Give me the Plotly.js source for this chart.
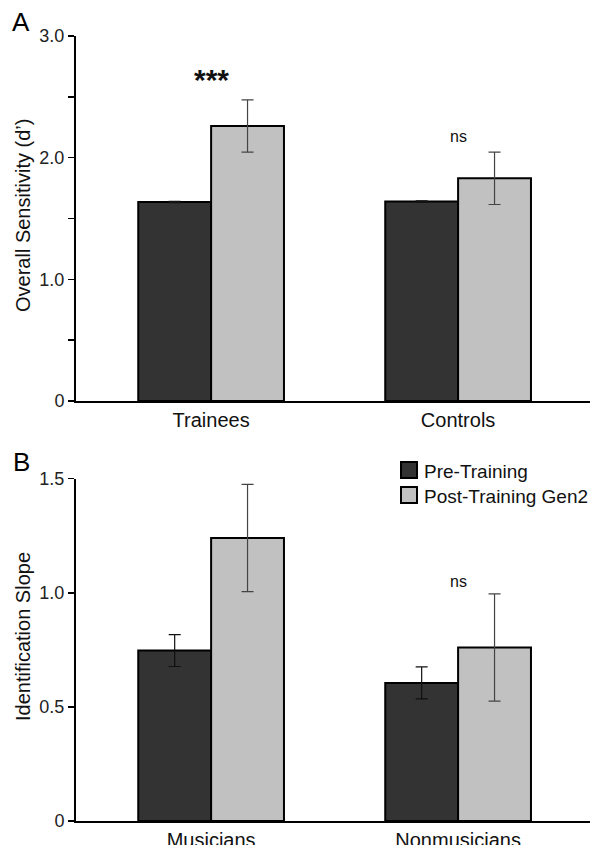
<!DOCTYPE html>
<html>
<head>
<meta charset="utf-8">
<script src="https://cdn.plot.ly/plotly-3.0.1.min.js"></script>
<style>html,body{margin:0;padding:0;background:#fff;}#chart{width:590px;height:845px;}</style>
</head>
<body>
<div id="chart"></div>
<script>
// Panel A data
const groupsA = ['Trainees', 'Controls'];
const preA = [1.635, 1.64];
const preAErr = [0.005, 0.005];
const postA = [2.26, 1.83];
const postAErr = [0.215, 0.215];
const sigA = ['***', 'ns'];
const sigAy = [2.64, 2.17];
const ticksAVals = [0, 1, 2, 3];
const ticksAText = ['0', '1.0', '2.0', '3.0'];
const titleA = 'Overall Sensitivity (d\u2019)';

// Panel B data
const groupsB = ['Musicians', 'Nonmusicians'];
const preB = [0.747, 0.605];
const preBErr = [0.07, 0.07];
const postB = [1.24, 0.76];
const postBErr = [0.235, 0.235];
const sigB = ['***', 'ns'];
const sigBy = [1.53, 1.05];
const ticksBVals = [0, 0.5, 1, 1.5];
const ticksBText = ['0', '0.5', '1.0', '1.5'];
const titleB = 'Identification Slope';

const seriesNames = ['Pre-Training', 'Post-Training Gen2'];
const panelLetters = ['A', 'B'];

const FONT = '"Liberation Sans", Arial, Helvetica, sans-serif';
const seriesFills = ['#333333', '#c1c1c1'];
const errColors = ['#111111', '#444444'];

// pixel -> paper helpers (plot area: l=76, r=0, t=0, b=0 in 590x845)
const W = 590, H = 845, ML = 76;
const px = v => (v - ML) / (W - ML);
const py = v => (H - v) / H;

function barTrace(x, y, err, k, xa, ya) {
  return {
    type: 'bar', x: x, y: y, name: seriesNames[k], xaxis: xa, yaxis: ya,
    showlegend: false,
    marker: {color: seriesFills[k], line: {color: '#000', width: 2}},
    error_y: {type: 'data', array: err, visible: true, color: errColors[k], thickness: 1.2, width: 6}
  };
}

const data = [
  barTrace(groupsA, preA, preAErr, 0, 'x', 'y'),
  barTrace(groupsA, postA, postAErr, 1, 'x', 'y'),
  barTrace(groupsB, preB, preBErr, 0, 'x2', 'y2'),
  barTrace(groupsB, postB, postBErr, 1, 'x2', 'y2')
];

function sigFont(t) {
  return t === '***'
    ? {family: '"Liberation Sans", Arial, sans-serif', size: 30, color: '#111', weight: 'bold'}
    : {family: FONT, size: 16, color: '#111'};
}

const annotations = [];
groupsA.forEach((g, i) => annotations.push({
  x: g, y: sigAy[i], xref: 'x', yref: 'y', text: sigA[i], showarrow: false, font: sigFont(sigA[i])
}));
groupsB.forEach((g, i) => annotations.push({
  x: g, y: sigBy[i], xref: 'x2', yref: 'y2', text: sigB[i], showarrow: false, font: sigFont(sigB[i])
}));
// panel letters
annotations.push({x: px(21), y: py(22), xref: 'paper', yref: 'paper', xanchor: 'center', yanchor: 'middle',
  text: panelLetters[0], showarrow: false, font: {family: FONT, size: 26, color: '#000'}});
annotations.push({x: px(21), y: py(462), xref: 'paper', yref: 'paper', xanchor: 'center', yanchor: 'middle',
  text: panelLetters[1], showarrow: false, font: {family: FONT, size: 26, color: '#000'}});
// y-axis titles
annotations.push({x: px(23), y: py(216), xref: 'paper', yref: 'paper', xanchor: 'center', yanchor: 'middle',
  textangle: -90, text: titleA, showarrow: false, font: {family: FONT, size: 20, color: '#111'}});
annotations.push({x: px(23), y: py(637), xref: 'paper', yref: 'paper', xanchor: 'center', yanchor: 'middle',
  textangle: -90, text: titleB, showarrow: false, font: {family: FONT, size: 20, color: '#111'}});

// legend (drawn in panel B)
const legendRows = [470, 495];
const shapes = [];
seriesNames.forEach((n, k) => {
  shapes.push({type: 'rect', xref: 'paper', yref: 'paper',
    x0: px(401), x1: px(417), y0: py(legendRows[k] + 8), y1: py(legendRows[k] - 8),
    fillcolor: seriesFills[k], line: {color: '#000', width: 2}});
  annotations.push({x: px(422), y: py(legendRows[k] + 1), xref: 'paper', yref: 'paper',
    xanchor: 'left', yanchor: 'middle', text: n, showarrow: false,
    font: {family: FONT, size: 19, color: '#111'}});
});

const xRange = [-0.547, 1.534];
const xCommon = {
  type: 'category', range: xRange, showline: true, linecolor: '#000', linewidth: 2,
  ticks: '', showgrid: false, zeroline: false, automargin: false,
  tickfont: {family: FONT, size: 20, color: '#111'}, fixedrange: true
};
const yCommon = {
  showline: true, linecolor: '#000', linewidth: 2, ticks: 'outside', ticklen: 6, tickwidth: 1.5,
  tickcolor: '#000', showgrid: false, zeroline: false, automargin: false,
  tickfont: {family: FONT, size: 18, color: '#222'}, tickmode: 'array', fixedrange: true
};

const layout = {
  width: W, height: H,
  margin: {l: ML, r: 0, t: 0, b: 0},
  paper_bgcolor: '#fff', plot_bgcolor: '#fff',
  font: {family: FONT, color: '#111'},
  barmode: 'group', bargap: 0.41, bargroupgap: 0,
  showlegend: false,
  xaxis: Object.assign({}, xCommon, {domain: [0, 1], anchor: 'y'}),
  xaxis2: Object.assign({}, xCommon, {domain: [0, 1], anchor: 'y2'}),
  yaxis: Object.assign({}, yCommon, {
    domain: [py(401), py(36)], range: [0, 3], anchor: 'x',
    tickvals: ticksAVals, ticktext: ticksAText,
    minor: {tickmode: 'array', tickvals: [0.5, 1.5, 2.5], ticks: 'outside', ticklen: 6, tickwidth: 1.5, tickcolor: '#000', showgrid: false}
  }),
  yaxis2: Object.assign({}, yCommon, {
    domain: [py(821), py(478.7)], range: [0, 1.5], anchor: 'x2',
    tickvals: ticksBVals, ticktext: ticksBText
  }),
  shapes: shapes,
  annotations: annotations
};

Plotly.newPlot('chart', data, layout, {displayModeBar: false, staticPlot: true});
</script>
</body>
</html>
